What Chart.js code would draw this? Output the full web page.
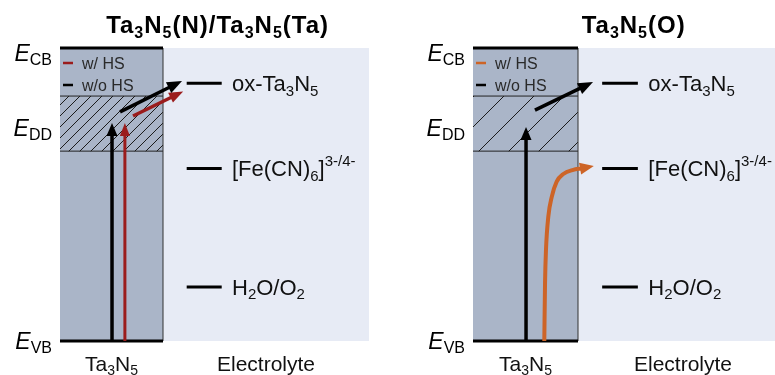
<!DOCTYPE html>
<html>
<head>
<meta charset="utf-8">
<script src="https://cdn.jsdelivr.net/npm/chart.js@4.4.0/dist/chart.umd.min.js"></script>
<style>
  body { margin: 0; background: #fff; width: 775px; height: 375px; overflow: hidden; position: relative; }
  canvas { position: absolute; top: 0; }
  #leftPanel { left: 0; }
  #rightPanel { left: 390px; }
</style>
</head>
<body>
<canvas id="leftPanel" width="390" height="375"></canvas>
<canvas id="rightPanel" width="385" height="375"></canvas>
<script>
// x: 0..1 is the Ta3N5 slab, 1.. is the electrolyte; y: energy, VB = 0, CB = 100
const panelTitles = ['Ta_3N_5(N)/Ta_3N_5(Ta)', 'Ta_3N_5(O)'];
const regionLabels = ['Ta_3N_5', 'Electrolyte'];
const regionCenters = [0.5, 2.0];
const bandNames = ['CB', 'DD', 'VB'];
const bandLabelEnergies = [98.3, 72.7, 0];
const defectBandEdges = [64.8, 83.6];
const redoxNames = ['ox-Ta_3N_5', '[Fe(CN)_6]^{3-/4-}', 'H_2O/O_2'];
const redoxEnergies = [88.0, 58.9, 18.4];
const redoxSpan = [1.23, 1.57];
const legendLabels = ['w/ HS', 'w/o HS'];
const hsColors = ['#9b1c1c', '#cd6427'];

// excitation / transfer paths
const leftBlackRiseX = [0.505, 0.505], leftBlackRiseY = [0, 70.3];
const leftBlackHopX = [0.583, 1.063], leftBlackHopY = [78.2, 86.6];
const leftRedRiseX = [0.63, 0.63], leftRedRiseY = [0, 70.3];
const leftRedHopX = [0.709, 1.082], leftRedHopY = [76.8, 83.2];
const rightBlackRiseX = [0.505, 0.505], rightBlackRiseY = [0, 68.9];
const rightBlackHopX = [0.59, 1.023], rightBlackHopY = [78.8, 86.3];
const rightOrangeX = [0.679, 0.686, 0.695, 0.717, 0.75, 0.797, 0.86, 0.955, 1.029];
const rightOrangeY = [0, 19.8, 31.1, 42.4, 49.2, 54.4, 57.0, 58.4, 58.9];

const FONT = '"Liberation Sans", Arial, sans-serif';
const boxFill = '#aab5c8';
const electrolyteFill = '#e7ebf5';

function pts(xs, ys) {
    return xs.map((x, i) => ({ x: x, y: ys[i] }));
}

function line(xs, ys, extra) {
    return Object.assign({
        data: pts(xs, ys),
        borderColor: '#000',
        borderWidth: 3,
        pointRadius: 0,
        fill: false,
        tension: 0,
        clip: false
    }, extra);
}

function hatchPattern(step) {
    const c = document.createElement('canvas');
    c.width = step; c.height = step;
    const g = c.getContext('2d');
    g.strokeStyle = '#1c1c1c';
    g.lineWidth = 1;
    g.beginPath();
    for (let k = -1; k <= 1; k++) {
        g.moveTo(k * step, step);
        g.lineTo(k * step + step, 0);
    }
    g.stroke();
    return g.createPattern(c, 'repeat');
}

// "_x" or "_{..}" = subscript, "^{..}" = superscript
function richParts(s) {
    const parts = [];
    let buf = '', i = 0;
    while (i < s.length) {
        const ch = s[i];
        if (ch === '_' || ch === '^') {
            if (buf) { parts.push({ t: buf, k: 0 }); buf = ''; }
            let t;
            if (s[i + 1] === '{') { const j = s.indexOf('}', i); t = s.slice(i + 2, j); i = j + 1; }
            else { t = s[i + 1]; i += 2; }
            parts.push({ t: t, k: ch === '_' ? -1 : 1 });
        } else { buf += ch; i++; }
    }
    if (buf) parts.push({ t: buf, k: 0 });
    return parts;
}

function drawRich(ctx, s, x, y, size, align, weight) {
    const parts = richParts(s);
    const small = Math.round(size * 0.66);
    const font = sz => (weight || '') + ' ' + sz + 'px ' + FONT;
    let w = 0;
    parts.forEach(p => {
        ctx.font = font(p.k ? small : size);
        p.w = ctx.measureText(p.t).width;
        w += p.w;
    });
    let cx = align === 'center' ? x - w / 2 : x;
    parts.forEach(p => {
        ctx.font = font(p.k ? small : size);
        const dy = p.k < 0 ? size * 0.2 : (p.k > 0 ? -size * 0.46 : 0);
        ctx.fillText(p.t, cx, y + dy);
        cx += p.w;
    });
}

const decorations = {
    id: 'decorations',
    afterDatasetsDraw(chart) {
        const ctx = chart.ctx;
        chart.data.datasets.forEach((ds, i) => {
            if (!ds.head) return;
            const els = chart.getDatasetMeta(i).data;
            const a = els[els.length - 2], b = els[els.length - 1];
            const ang = Math.atan2(b.y - a.y, b.x - a.x);
            ctx.save();
            ctx.translate(b.x, b.y);
            ctx.rotate(ang);
            ctx.fillStyle = ds.borderColor;
            ctx.beginPath();
            ctx.moveTo(ds.head[0], 0);
            ctx.lineTo(-1, -ds.head[1] / 2);
            ctx.lineTo(-1, ds.head[1] / 2);
            ctx.closePath();
            ctx.fill();
            ctx.restore();
        });
    },
    afterDraw(chart, args, opts) {
        const ctx = chart.ctx;
        const sx = chart.scales.x, sy = chart.scales.y;
        const area = chart.chartArea;
        ctx.save();
        ctx.textAlign = 'left';
        ctx.textBaseline = 'alphabetic';
        ctx.fillStyle = '#000';

        ctx.letterSpacing = '1px';
        drawRich(ctx, opts.title, sx.getPixelForValue(1.53), 33, 24, 'center', 'bold');
        ctx.letterSpacing = '0px';

        // band edge labels E_CB, E_DD, E_VB
        bandNames.forEach((n, i) => {
            const y = sy.getPixelForValue(bandLabelEnergies[i]) + 8;
            ctx.font = 'italic 23px ' + FONT;
            const we = ctx.measureText('E').width;
            ctx.font = '16px ' + FONT;
            const ws = ctx.measureText(n).width;
            const right = area.left - 8;
            ctx.font = 'italic 23px ' + FONT;
            ctx.fillText('E', right - ws - we, y);
            ctx.font = '16px ' + FONT;
            ctx.fillText(n, right - ws, y + 4);
        });

        ctx.fillStyle = '#111';
        redoxNames.forEach((n, i) => {
            drawRich(ctx, n, sx.getPixelForValue(1.67), sy.getPixelForValue(redoxEnergies[i]) + 8, 22, 'left');
        });

        regionLabels.forEach((n, i) => {
            drawRich(ctx, n, sx.getPixelForValue(regionCenters[i]), 371, 21, 'center');
        });

        // legend inside the slab
        const legendColors = [opts.hsColor, '#000'];
        legendLabels.forEach((n, i) => {
            const y = area.top + 15 + i * 22;
            ctx.strokeStyle = legendColors[i];
            ctx.lineWidth = 2.5;
            ctx.beginPath();
            ctx.moveTo(area.left + 3, y);
            ctx.lineTo(area.left + 13, y);
            ctx.stroke();
            ctx.fillStyle = '#2a2a2a';
            ctx.font = '16px ' + FONT;
            ctx.fillText(n, area.left + 22, y + 6);
        });
        ctx.restore();
    }
};

function buildPanel(canvasId, p) {
    const ctx = document.getElementById(canvasId).getContext('2d');
    const datasets = [
        line([1, p.xMax], [100, 100], { borderWidth: 0, fill: 'origin', backgroundColor: electrolyteFill, order: 30 }),
        line([0, 1], [100, 100], { borderWidth: 0, fill: 'origin', backgroundColor: boxFill, order: 29 }),
        line([0, 1], [defectBandEdges[1], defectBandEdges[1]], { borderWidth: 1, borderColor: '#222', fill: '+1', backgroundColor: hatchPattern(p.hatchStep), order: 28 }),
        line([0, 1], [defectBandEdges[0], defectBandEdges[0]], { borderWidth: 1, borderColor: '#222', order: 27 }),
        line([1, 1], [0, 100], { borderWidth: 1, borderColor: '#333', order: 26 }),
        line([0, 1], [100, 100], { borderWidth: 3, order: 25 }),
        line([0, 1], [0, 0], { borderWidth: 3, order: 25 })
    ];
    redoxEnergies.forEach(e => {
        datasets.push(line(redoxSpan, [e, e], { borderWidth: 3, order: 20 }));
    });
    p.arrows.forEach((a, i) => {
        const ds = line(a.x, a.y, {
            borderColor: a.color,
            borderWidth: a.width,
            head: a.head,
            order: 10 - i
        });
        if (a.smooth) ds.cubicInterpolationMode = 'monotone';
        datasets.push(ds);
    });

    return new Chart(ctx, {
        type: 'line',
        data: { datasets: datasets },
        options: {
            responsive: false,
            animation: false,
            devicePixelRatio: 1,
            events: [],
            layout: { padding: p.padding },
            scales: {
                x: { type: 'linear', min: 0, max: p.xMax, display: false },
                y: { type: 'linear', min: 0, max: 100, display: false }
            },
            plugins: {
                legend: { display: false },
                tooltip: { enabled: false },
                decorations: { title: p.title, hsColor: p.hsColor }
            }
        },
        plugins: [decorations]
    });
}

buildPanel('leftPanel', {
    title: panelTitles[0],
    hsColor: hsColors[0],
    xMax: 3,
    hatchStep: 11,
    padding: { left: 60, right: 21, top: 48, bottom: 34 },
    arrows: [
        { x: leftRedRiseX, y: leftRedRiseY, color: hsColors[0], width: 3, head: [12, 10] },
        { x: leftRedHopX, y: leftRedHopY, color: hsColors[0], width: 3.5, head: [13, 11] },
        { x: leftBlackRiseX, y: leftBlackRiseY, color: '#000', width: 3.5, head: [12, 11] },
        { x: leftBlackHopX, y: leftBlackHopY, color: '#000', width: 3.5, head: [14, 12] }
    ]
});

buildPanel('rightPanel', {
    title: panelTitles[1],
    hsColor: hsColors[1],
    xMax: 2.876,
    hatchStep: 30,
    padding: { left: 83, right: 0, top: 48, bottom: 34 },
    arrows: [
        { x: rightOrangeX, y: rightOrangeY, color: hsColors[1], width: 4, smooth: true, head: [13, 12] },
        { x: rightBlackRiseX, y: rightBlackRiseY, color: '#000', width: 3.5, head: [12, 11] },
        { x: rightBlackHopX, y: rightBlackHopY, color: '#000', width: 3.5, head: [14, 12] }
    ]
});
</script>
</body>
</html>
